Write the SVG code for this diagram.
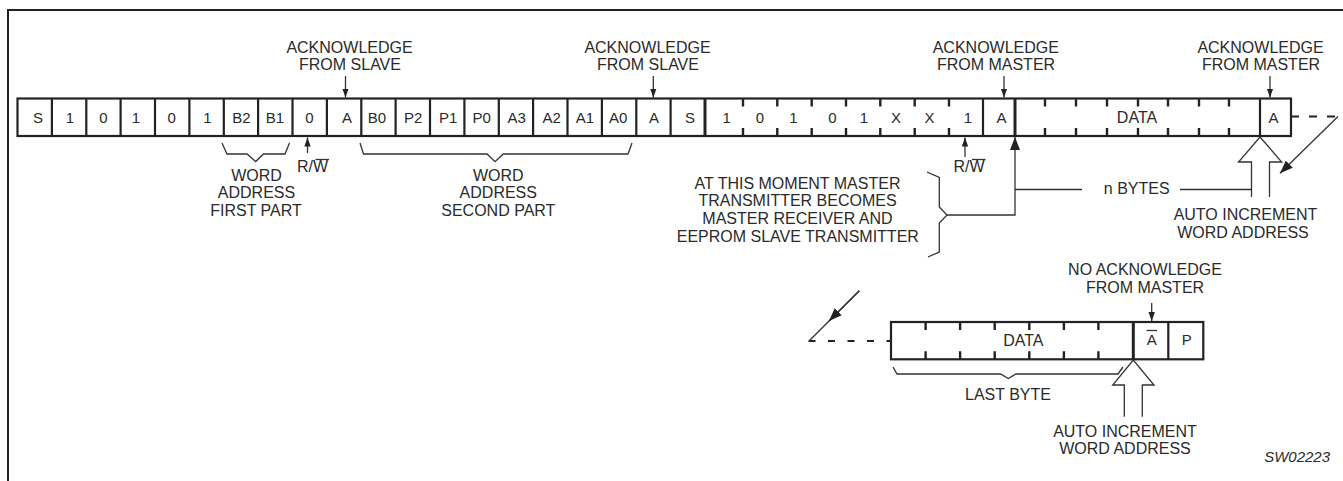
<svg xmlns="http://www.w3.org/2000/svg" width="1343" height="481" viewBox="0 0 1343 481">
<defs>
<style>
.t{font-family:"Liberation Sans",Arial,Helvetica,sans-serif;font-size:16px;fill:#2a2a2a;text-anchor:middle}
.c{font-family:"Liberation Sans",Arial,Helvetica,sans-serif;font-size:15px;fill:#2a2a2a;text-anchor:middle}
.box{fill:#fff;stroke:#222;stroke-width:2.2}
.cell{stroke:#222;stroke-width:2.2;fill:none}
.thick{stroke:#222;stroke-width:3;fill:none}
.tick{stroke:#222;stroke-width:2.4;fill:none}
.thin{stroke:#333;stroke-width:1.3;fill:none}
.dash{stroke:#222;stroke-width:2;fill:none}
.hollow{stroke:#333;stroke-width:1.3;fill:#fff}
</style>
<marker id="ah" markerWidth="10" markerHeight="10" refX="9" refY="5" orient="auto" markerUnits="userSpaceOnUse">
<path d="M0,1.8 L9,5 L0,8.2 Z" fill="#222"/>
</marker>
<marker id="ahb" markerWidth="14" markerHeight="12" refX="13" refY="6" orient="auto" markerUnits="userSpaceOnUse">
<path d="M0,1 L13,6 L0,11 Z" fill="#222"/>
</marker>
</defs>
<rect width="1343" height="481" fill="#fff"/>
<g id="frame">
<path d="M8,481 V10 H1343" stroke="#222" stroke-width="2" fill="none"/>
</g>

<g id="row1">
<rect class="box" x="17.5" y="98.5" width="1273.5" height="37.5"/>
<g class="cell">
<path d="M51.9,98.5V136 M86.3,98.5V136 M120.6,98.5V136 M155,98.5V136 M189.4,98.5V136 M223.8,98.5V136 M258.1,98.5V136 M292.5,98.5V136 M326.9,98.5V136 M361.3,98.5V136 M395.6,98.5V136 M430,98.5V136 M464.4,98.5V136 M498.8,98.5V136 M533.1,98.5V136 M567.5,98.5V136 M601.9,98.5V136 M636.3,98.5V136 M670.6,98.5V136 M983,98.5V136 M1260,98.5V136"/>
</g>
<path class="thick" d="M705,98.5V136 M1015,98.5V136"/>
<g class="tick">
<path d="M743,98.5v8 M743,136v-8 M777.3,98.5v8 M777.3,136v-8 M811.7,98.5v8 M811.7,136v-8 M846,98.5v8 M846,136v-8 M880.3,98.5v8 M880.3,136v-8 M914.7,98.5v8 M914.7,136v-8 M949,98.5v8 M949,136v-8"/>
<path d="M1045,98.5v8 M1045,136v-8 M1076,98.5v8 M1076,136v-8 M1107,98.5v8 M1107,136v-8 M1138,98.5v8 M1138,136v-8 M1168,98.5v8 M1168,136v-8 M1199,98.5v8 M1199,136v-8 M1229,98.5v8 M1229,136v-8"/>
</g>
<g class="c">
<text x="38" y="122.5">S</text>
<text x="70" y="122.5">1</text>
<text x="103.4" y="122.5">0</text>
<text x="136" y="122.5">1</text>
<text x="171.7" y="122.5">0</text>
<text x="207.5" y="122.5">1</text>
<text x="241.5" y="122.5">B2</text>
<text x="275" y="122.5">B1</text>
<text x="309.5" y="122.5">0</text>
<text x="347" y="122.5">A</text>
<text x="377" y="122.5">B0</text>
<text x="413.3" y="122.5">P2</text>
<text x="448.3" y="122.5">P1</text>
<text x="481.7" y="122.5">P0</text>
<text x="516.7" y="122.5">A3</text>
<text x="551.7" y="122.5">A2</text>
<text x="585" y="122.5">A1</text>
<text x="618.3" y="122.5">A0</text>
<text x="654" y="122.5">A</text>
<text x="690" y="122.5">S</text>
<text x="726.7" y="122.5">1</text>
<text x="760" y="122.5">0</text>
<text x="793.5" y="122.5">1</text>
<text x="832.5" y="122.5">0</text>
<text x="864" y="122.5">1</text>
<text x="896" y="122.5">X</text>
<text x="929.5" y="122.5">X</text>
<text x="968" y="122.5">1</text>
<text x="1001.5" y="122.5">A</text>
<text x="1137" y="123" class="t">DATA</text>
<text x="1273.5" y="122.5">A</text>
</g>
</g>

<g id="ack-slave-1">
<text class="t" x="349.5" y="52.5">ACKNOWLEDGE</text>
<text class="t" x="350" y="70">FROM SLAVE</text>
</g>
<g id="ack-slave-2">
<text class="t" x="647.5" y="52.5">ACKNOWLEDGE</text>
<text class="t" x="648" y="70">FROM SLAVE</text>
</g>
<g id="ack-master-1">
<text class="t" x="995.8" y="52.5">ACKNOWLEDGE</text>
<text class="t" x="996" y="70">FROM MASTER</text>
</g>
<g id="ack-master-2">
<text class="t" x="1260.5" y="52.5">ACKNOWLEDGE</text>
<text class="t" x="1261" y="70">FROM MASTER</text>
</g>

<g id="word-address-first">
<path class="thin" d="M222,143 L227,154 H247 L255.7,161.5 L263.5,154 H285 L289.5,143"/>
<text class="t" x="256.5" y="180.7">WORD</text>
<text class="t" x="256.5" y="198.3">ADDRESS</text>
<text class="t" x="256" y="216">FIRST PART</text>
</g>
<g id="rw-1">
<text class="t" x="312.5" y="171.5">R/W</text>
<path class="thin" d="M315.5,159.5 H329"/>
</g>
<g id="word-address-second">
<path class="thin" d="M360,143 L363.5,154 H487 L495,161.7 L503.3,154 H628 L632,143"/>
<text class="t" x="498.3" y="180.7">WORD</text>
<text class="t" x="498.3" y="198.3">ADDRESS</text>
<text class="t" x="498.3" y="216">SECOND PART</text>
</g>
<g id="rw-2">
<text class="t" x="969" y="171.5">R/W</text>
<path class="thin" d="M972,159.5 H985.5"/>
</g>
<g id="moment">
<text class="t" x="797.5" y="188.5">AT THIS MOMENT MASTER</text>
<text class="t" x="797.5" y="206">TRANSMITTER BECOMES</text>
<text class="t" x="797.5" y="224">MASTER RECEIVER AND</text>
<text class="t" x="797.8" y="241.7">EEPROM SLAVE TRANSMITTER</text>
<path class="thin" d="M927,172 L939.3,177.5 V207 L947,215 L939.3,223 V252 L928,257"/>
</g>
<g id="n-bytes">
<text class="t" x="1136.7" y="193.5">n BYTES</text>
</g>
<g id="auto-inc-1">
<path class="hollow" d="M1251.5,197 V162 H1238.5 L1260,137 L1281.7,162 H1269.5 V197"/>
<text class="t" x="1245.5" y="220">AUTO INCREMENT</text>
<text class="t" x="1243" y="238.3">WORD ADDRESS</text>
</g>
<g id="no-ack">
<text class="t" x="1145" y="275">NO ACKNOWLEDGE</text>
<text class="t" x="1145" y="293.3">FROM MASTER</text>
</g>

<g id="row2">
<rect class="box" x="891" y="322" width="312.3" height="37.3"/>
<path class="cell" d="M1168.3,322V359.3"/>
<path class="thick" d="M1133.3,322V359.3"/>
<path class="tick" d="M925.6,322v8 M925.6,359.3v-8 M960.1,322v8 M960.1,359.3v-8 M994.7,322v8 M994.7,359.3v-8 M1029.3,322v8 M1029.3,359.3v-8 M1063.9,322v8 M1063.9,359.3v-8 M1098.4,322v8 M1098.4,359.3v-8"/>
<text class="t" x="1023.3" y="345.5">DATA</text>
<text class="c" x="1151.7" y="345">A</text>
<path class="thin" d="M1146.5,330.5 H1157" stroke-width="1.2"/>
<text class="c" x="1186.7" y="345">P</text>
</g>
<g id="last-byte">
<path class="thin" d="M893,367 L897,374 H1000.5 L1008.3,378.5 L1016,374 H1118 L1123,367"/>
<text class="t" x="1008" y="400">LAST BYTE</text>
</g>
<g id="auto-inc-2">
<path class="hollow" d="M1124.3,416.7 V385 H1112.7 L1133.3,360 L1154,385 H1142.3 V416.7"/>
<text class="t" x="1125" y="436.7">AUTO INCREMENT</text>
<text class="t" x="1125" y="454">WORD ADDRESS</text>
</g>
<g id="label">
<text x="1330" y="461.7" style="font-family:'Liberation Sans',Arial,sans-serif;font-size:15px;font-style:italic;fill:#2a2a2a;text-anchor:end">SW02223</text>
</g>

<g id="connectors">
<path class="thin" d="M345.5,76 V97.5" marker-end="url(#ah)"/>
<path class="thin" d="M653.3,76 V97.5" marker-end="url(#ah)"/>
<path class="thin" d="M1004,76 V97.5" marker-end="url(#ah)"/>
<path class="thin" d="M1270,76 V97.5" marker-end="url(#ah)"/>
<path class="thin" d="M307.5,153 V137.5" marker-end="url(#ah)"/>
<path class="thin" d="M965,157 V137.5" marker-end="url(#ah)"/>
<path class="thin" d="M1151.7,303 V321" marker-end="url(#ah)"/>
<path class="thin" d="M947,215 H1015 V137" marker-end="url(#ahb)"/>
<path class="thin" d="M1015,189.5 H1082 M1180,189.5 H1251.5"/>
<path class="dash" d="M1291,116.5 H1340" stroke-dasharray="8,10"/>
<path class="thin" d="M1338,116.5 L1280,173.3" marker-end="url(#ahb)"/>
<path class="dash" d="M808.5,341 H891" stroke-dasharray="7,12.5"/>
<path class="thin" d="M859.3,290.7 L809.3,340.7"/>
<path class="thin" d="M859.3,290.7 L829,321" marker-end="url(#ahb)"/>
</g>
</svg>
